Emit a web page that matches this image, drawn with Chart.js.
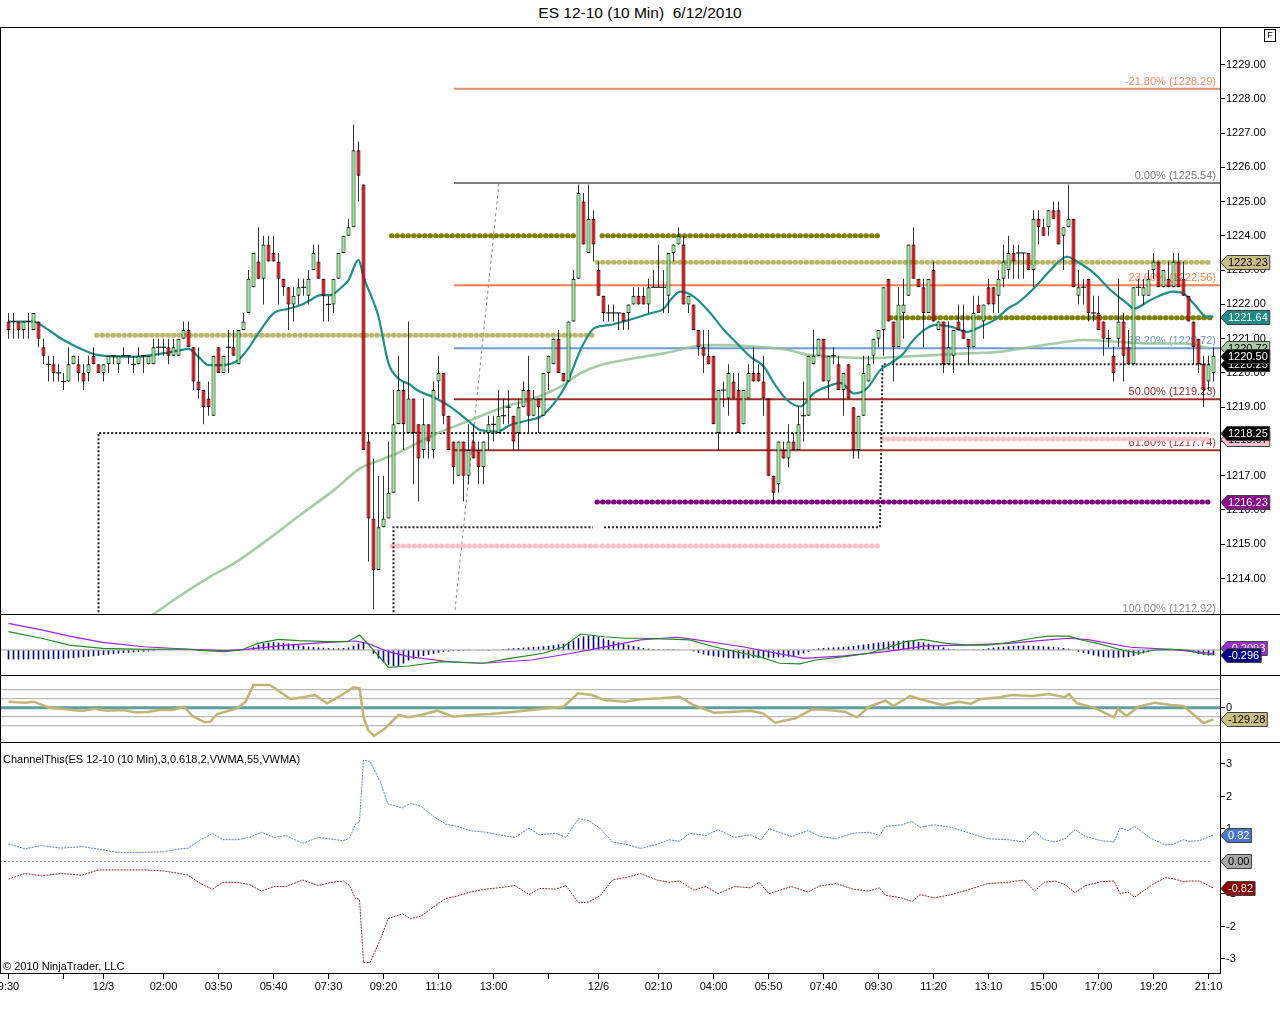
<!DOCTYPE html>
<html><head><meta charset="utf-8"><title>ES 12-10 (10 Min)</title>
<script src="https://cdn.jsdelivr.net/npm/chart.js@4.4.0/dist/chart.umd.min.js"></script>
<style>
 html,body{margin:0;padding:0;background:#fff;}
 body{position:relative;width:1280px;height:1020px;overflow:hidden;font-family:"Liberation Sans",Arial,sans-serif;color:#000;}
 canvas{position:absolute;left:0;}
 .ln{position:absolute;background:#000;z-index:5;}
 .txt{position:absolute;font-size:11px;white-space:pre;z-index:6;}
</style></head><body>
<div class="txt" style="left:0;width:1280px;top:4px;text-align:center;font-size:15.5px;">ES 12-10 (10 Min)  6/12/2010</div>
<canvas id="cMain" width="1280" height="586" style="top:28px"></canvas>
<canvas id="cMacd" width="1280" height="60" style="top:615px"></canvas>
<canvas id="cCci" width="1280" height="66" style="top:676px"></canvas>
<canvas id="cChan" width="1280" height="277" style="top:743px"></canvas>
<div class="ln" style="left:0;top:27px;width:1280px;height:1px"></div>
<div class="ln" style="left:0;top:614px;width:1280px;height:1px"></div>
<div class="ln" style="left:0;top:675px;width:1280px;height:1px"></div>
<div class="ln" style="left:0;top:742px;width:1280px;height:1px"></div>
<div class="ln" style="left:0;top:973px;width:1221px;height:1px"></div>
<div class="ln" style="left:0;top:27px;width:1px;height:947px"></div>
<div class="ln" style="left:1220px;top:27px;width:1px;height:947px"></div>
<div class="txt" style="left:1264px;top:29px;width:10px;height:11px;border:1px solid #000;font-size:9px;line-height:11px;text-align:center;">F</div>
<div class="txt" style="left:3px;top:753px;">ChannelThis(ES 12-10 (10 Min),3,0.618,2,VWMA,55,VWMA)</div>
<div class="txt" style="left:3px;top:960px;">© 2010 NinjaTrader, LLC</div>
<script>
// ---------------- DATA ----------------
const tickIdx  = [0, 11, 19, 31, 42, 53, 64, 75, 86, 97, 108, 118, 130, 141, 152, 163, 174, 185, 196, 207, 218, 229, 240];
const tickText = ['9:30', '', '12/3', '02:00', '03:50', '05:40', '07:30', '09:20', '11:10', '13:00', '', '12/6', '02:10', '04:00', '05:50', '07:40', '09:30', '11:20', '13:10', '15:00', '17:00', '19:20', '21:10'];
const priceTicks = [1214,1215,1216,1217,1218,1219,1220,1221,1222,1223,1224,1225,1226,1227,1228,1229];
const cciTicks = [0];
const chanTicks = [3,2,1,0,-1,-2,-3];

const open = [
1221.5,1221.5,1221.5,1221.25,1221.5,1221.25,1221.5,1220.75,1220.25,1220.25,
1220.0,1219.75,1219.75,1220.25,1220.25,1220.0,1220.0,1220.5,1220.25,1220.0,
1220.25,1220.5,1220.25,1220.5,1220.5,1220.25,1220.25,1220.5,1220.25,1220.25,
1220.75,1220.75,1220.75,1220.5,1220.5,1221.0,1221.25,1220.75,1219.75,1219.5,
1219.25,1218.75,1220.75,1220.0,1220.75,1220.75,1220.25,1221.25,1221.75,1222.5,
1223.25,1222.75,1223.75,1223.5,1223.25,1222.75,1222.5,1222.0,1222.25,1222.5,
1222.25,1223.0,1223.25,1222.75,1222.0,1222.0,1222.75,1223.5,1224.0,1224.25,
1226.5,1225.5,1218.0,1215.75,1214.25,1215.5,1215.75,1216.5,1218.5,1219.5,
1218.25,1219.25,1218.5,1217.75,1218.5,1217.75,1219.75,1220.0,1218.75,1218.0,
1217.0,1218.0,1217.0,1218.0,1217.75,1217.25,1218.25,1218.5,1218.25,1218.75,
1219.0,1218.75,1218.25,1219.0,1219.5,1218.75,1219.25,1218.75,1220.0,1220.25,
1221.0,1220.0,1219.75,1221.5,1222.75,1225.0,1223.5,1224.5,1223.0,1222.25,
1221.75,1221.75,1221.75,1221.75,1221.75,1222.0,1222.25,1222.25,1222.0,1222.5,
1222.5,1222.5,1222.25,1223.5,1223.75,1223.75,1222.0,1222.0,1221.25,1220.75,
1220.5,1220.5,1218.25,1219.5,1219.25,1219.75,1219.5,1218.5,1219.25,1220.0,
1220.0,1219.75,1219.25,1217.0,1216.75,1217.75,1217.5,1218.0,1217.75,1218.75,
1218.75,1220.25,1220.5,1221.0,1219.75,1220.5,1220.25,1219.5,1220.25,1219.0,
1217.75,1218.75,1219.75,1220.5,1221.0,1221.25,1222.75,1221.5,1220.75,1221.75,
1222.25,1223.75,1222.75,1222.5,1221.75,1223.0,1221.25,1221.5,1220.25,1220.5,
1221.5,1221.25,1221.0,1220.75,1222.0,1221.5,1222.5,1222.5,1222.25,1222.75,
1223.0,1223.5,1223.5,1223.5,1223.5,1223.0,1224.5,1224.25,1224.25,1224.75,
1224.75,1224.0,1224.25,1224.5,1222.25,1222.5,1222.75,1221.75,1221.75,1221.5,
1221.0,1220.5,1221.0,1221.5,1220.75,1220.25,1222.5,1222.25,1222.25,1223.0,
1223.25,1222.5,1222.75,1222.5,1223.25,1222.75,1222.25,1221.5,1221.0,1220.25,
1219.75,1220.0];
const high = [
1221.75,1221.75,1221.5,1221.5,1221.75,1221.75,1221.5,1221.0,1220.5,1220.5,
1220.25,1220.0,1220.75,1220.5,1220.5,1220.25,1220.5,1220.75,1220.25,1220.25,
1220.5,1220.5,1220.5,1220.75,1220.5,1220.5,1220.75,1220.5,1220.5,1221.0,
1221.0,1221.0,1221.0,1221.0,1221.0,1221.5,1221.5,1220.75,1220.75,1219.5,
1219.75,1220.5,1220.75,1220.5,1221.25,1221.25,1221.25,1221.75,1223.0,1223.5,
1224.25,1224.0,1224.0,1224.0,1223.5,1222.75,1222.5,1222.5,1222.75,1222.75,
1223.0,1223.75,1223.75,1222.75,1222.25,1222.75,1223.5,1224.0,1224.5,1227.25,
1226.75,1225.5,1218.25,1217.5,1217.0,1217.0,1218.0,1219.5,1220.5,1219.75,
1221.5,1219.25,1218.5,1219.25,1218.5,1219.75,1220.5,1220.0,1218.75,1218.0,
1218.0,1218.0,1218.5,1218.5,1218.0,1218.0,1218.75,1218.75,1219.5,1219.25,
1219.5,1218.75,1219.25,1219.75,1220.5,1219.5,1219.25,1220.0,1220.5,1221.0,
1221.25,1220.0,1221.5,1223.0,1225.5,1225.25,1225.5,1224.75,1223.25,1222.25,
1222.0,1222.0,1221.75,1221.75,1222.0,1222.5,1222.5,1222.5,1222.75,1223.0,
1223.75,1223.0,1223.5,1223.75,1224.25,1224.0,1222.25,1222.0,1221.25,1221.25,
1221.25,1220.5,1219.5,1219.75,1220.25,1220.0,1220.0,1219.5,1220.25,1220.75,
1220.25,1220.5,1219.25,1217.0,1218.0,1218.0,1218.5,1218.25,1219.0,1219.75,
1220.5,1221.25,1221.0,1221.0,1220.5,1220.75,1220.5,1220.0,1220.25,1219.0,
1218.75,1220.5,1220.5,1221.0,1221.25,1222.5,1222.75,1221.5,1222.5,1222.75,
1223.75,1224.25,1222.75,1222.75,1222.75,1223.25,1221.5,1221.5,1221.5,1221.25,
1222.0,1222.0,1221.0,1222.25,1222.25,1222.0,1222.75,1222.5,1223.0,1223.75,
1224.0,1223.75,1223.75,1223.5,1223.5,1224.75,1224.75,1224.5,1224.75,1225.0,
1225.0,1224.25,1225.5,1224.5,1223.0,1222.75,1222.75,1222.25,1222.25,1221.5,
1221.25,1220.75,1222.75,1221.75,1221.25,1222.5,1222.75,1222.75,1223.0,1223.5,
1223.25,1223.0,1223.25,1223.5,1223.5,1223.25,1222.25,1221.5,1221.0,1220.5,
1220.5,1220.75];
const low = [
1221.0,1221.0,1221.0,1221.0,1221.0,1221.25,1220.75,1220.25,1219.75,1219.75,
1219.75,1219.5,1219.75,1220.25,1219.75,1219.5,1219.75,1220.25,1220.0,1219.75,
1220.0,1220.25,1220.0,1220.5,1220.25,1220.0,1220.25,1220.0,1220.25,1220.25,
1220.5,1220.5,1220.25,1220.5,1220.5,1221.0,1220.75,1219.5,1219.25,1218.5,
1218.75,1218.75,1220.0,1220.0,1220.0,1220.5,1220.25,1221.25,1221.75,1222.5,
1222.75,1222.0,1223.25,1223.25,1222.0,1222.25,1221.25,1221.5,1222.0,1222.25,
1222.0,1223.0,1222.75,1221.5,1221.5,1221.75,1222.75,1223.5,1224.0,1224.25,
1225.0,1217.75,1214.5,1213.1,1214.25,1215.5,1215.75,1216.5,1218.5,1217.75,
1218.25,1216.75,1216.25,1217.5,1217.5,1217.5,1219.25,1218.5,1217.75,1216.75,
1217.0,1216.25,1216.75,1217.5,1216.75,1216.75,1217.75,1218.0,1218.25,1218.5,
1218.5,1217.75,1217.75,1219.0,1218.25,1218.75,1218.25,1218.75,1219.5,1220.25,
1220.0,1219.75,1219.75,1221.5,1222.75,1223.75,1223.5,1223.25,1222.25,1221.5,
1221.5,1221.5,1221.25,1221.25,1221.25,1222.0,1222.0,1222.0,1221.75,1222.5,
1222.5,1221.75,1221.75,1223.25,1223.75,1222.0,1221.75,1221.25,1220.5,1220.0,
1220.25,1218.5,1217.75,1219.0,1218.75,1219.25,1218.25,1218.5,1219.25,1219.75,
1219.75,1218.75,1217.0,1216.25,1216.5,1217.5,1217.25,1217.75,1217.75,1218.0,
1218.75,1220.25,1220.5,1219.75,1219.25,1220.25,1219.5,1218.75,1219.25,1217.5,
1217.5,1218.75,1219.75,1220.25,1220.75,1220.5,1221.5,1219.75,1220.75,1221.0,
1222.25,1222.75,1222.5,1220.75,1221.75,1221.5,1221.25,1220.0,1220.25,1220.0,
1221.25,1221.0,1220.25,1220.75,1221.75,1221.0,1222.0,1221.75,1221.75,1222.5,
1222.75,1222.75,1222.75,1222.75,1223.0,1222.5,1223.75,1224.0,1224.0,1224.5,
1223.75,1223.0,1224.25,1222.5,1222.0,1222.0,1221.5,1221.5,1221.25,1220.5,
1220.75,1219.75,1220.75,1219.75,1220.25,1220.25,1222.25,1222.0,1222.25,1222.75,
1222.5,1222.5,1222.5,1222.5,1222.5,1222.25,1221.5,1220.25,1220.0,1219.0,
1219.5,1219.75];
const close = [
1221.25,1221.5,1221.25,1221.5,1221.5,1221.75,1221.0,1220.5,1220.25,1220.0,
1220.0,1219.75,1220.25,1220.5,1220.0,1219.75,1220.25,1220.25,1220.0,1220.25,
1220.5,1220.5,1220.5,1220.5,1220.5,1220.25,1220.5,1220.5,1220.5,1220.75,
1220.75,1220.75,1220.5,1220.75,1221.0,1221.25,1220.75,1219.75,1219.5,1219.0,
1219.0,1220.5,1220.0,1220.5,1220.75,1220.5,1221.25,1221.5,1222.75,1223.5,
1222.75,1223.75,1223.25,1223.25,1222.75,1222.5,1222.0,1222.25,1222.5,1222.5,
1222.75,1223.5,1222.75,1222.25,1222.0,1222.75,1223.5,1224.0,1224.25,1226.5,
1225.75,1217.75,1215.75,1214.25,1215.5,1215.75,1216.5,1218.5,1219.5,1218.5,
1219.25,1218.25,1217.5,1218.5,1218.0,1219.5,1220.0,1218.75,1217.75,1217.25,
1218.0,1217.0,1217.75,1217.5,1217.25,1218.0,1218.5,1218.5,1218.75,1218.75,
1219.0,1218.0,1219.0,1219.5,1218.75,1219.25,1219.0,1220.0,1220.5,1221.0,
1220.0,1219.75,1221.5,1222.75,1225.25,1223.75,1224.5,1223.75,1222.25,1221.75,
1221.75,1221.75,1221.75,1221.5,1222.0,1222.25,1222.0,1222.0,1222.5,1222.5,
1222.5,1222.5,1223.5,1223.75,1224.0,1222.0,1222.25,1221.25,1220.75,1220.5,
1220.25,1218.5,1219.5,1219.5,1220.0,1219.25,1218.25,1219.5,1220.0,1219.75,
1219.75,1219.25,1217.0,1216.5,1218.0,1217.5,1218.0,1217.75,1218.5,1218.75,
1220.5,1220.5,1221.0,1219.75,1220.5,1220.5,1219.5,1220.0,1219.25,1217.75,
1218.75,1220.0,1220.25,1221.0,1221.25,1222.5,1221.5,1220.75,1222.0,1222.0,
1223.75,1222.75,1222.5,1221.75,1222.75,1221.5,1221.5,1220.25,1220.75,1221.25,
1221.25,1221.0,1220.75,1221.75,1221.75,1222.0,1222.0,1222.0,1222.75,1223.25,
1223.5,1223.25,1223.5,1223.5,1223.0,1224.5,1224.25,1224.0,1224.75,1224.5,
1223.75,1224.25,1224.5,1222.5,1222.5,1222.5,1221.75,1221.75,1221.25,1221.0,
1221.0,1220.0,1221.5,1220.5,1220.25,1222.5,1222.5,1222.5,1222.75,1223.25,
1222.5,1223.0,1222.5,1223.25,1222.5,1222.25,1221.5,1220.75,1220.25,1219.5,
1220.25,1220.5];

// moving averages (bar index, price)
const tealX = [0,5,7,11,15,18,25,30,34,36,38,40,42.7,46,48,50,53,56,58.4,60.4,62.4,64.4,66.4,68,70,71,74,76,78,80.4,81.7,85,88.4,91.7,94.4,97.7,100.4,103.7,106.4,109.1,111.7,114.4,117.1,120.4,121.7,125.1,128.4,131.1,132.4,134.4,137.1,140.4,143.1,145.7,148.4,151.1,153.1,155.7,158.4,161,163.7,166.4,169.1,171.7,174.4,176.4,179,180.4,183.1,185.7,188.4,191.7,194.4,197.1,200.4,201.7,205.1,208.4,211.7,213.7,217.1,220.4,223.7,225.1,228.4,233,235,237,239.7,241];
const tealY = [1221.5,1221.5,1221.35,1220.96,1220.67,1220.52,1220.47,1220.55,1220.65,1220.7,1220.47,1220.23,1220.23,1220.38,1220.72,1221.16,1221.74,1221.87,1221.98,1222.13,1222.27,1222.27,1222.47,1222.71,1223.3,1222.81,1221.64,1220.28,1219.84,1219.65,1219.5,1219.29,1219.01,1218.63,1218.33,1218.29,1218.48,1218.61,1218.72,1219.11,1219.7,1220.67,1221.3,1221.4,1221.45,1221.59,1221.74,1221.88,1222.13,1222.37,1222.22,1221.74,1221.25,1220.86,1220.47,1220.18,1219.7,1219.21,1219.02,1219.4,1219.6,1219.7,1219.4,1219.55,1220.09,1220.28,1220.57,1220.86,1221.25,1221.4,1221.35,1221.2,1221.35,1221.54,1221.93,1222.03,1222.47,1223.0,1223.39,1223.25,1222.91,1222.42,1222.03,1221.88,1222.13,1222.37,1222.32,1222.03,1221.64,1221.64];
const longX = [28.5,29.4,40.4,45.1,51.7,58.4,65.1,70.4,74.4,78.4,80.4,85,91.7,98.4,105.1,110.4,114.4,118.4,125.1,131.7,137.1,141.7,148.4,155.1,160.4,165.1,171.7,178.4,185.1,191.7,198.4,205.1,211.7,215,221.7,228.4,235,240];
const longY = [1212.9,1213.0,1214.06,1214.44,1215.12,1215.86,1216.58,1217.22,1217.46,1217.7,1217.85,1218.19,1218.58,1218.97,1219.26,1219.6,1219.99,1220.23,1220.43,1220.59,1220.77,1220.81,1220.78,1220.69,1220.52,1220.47,1220.43,1220.47,1220.52,1220.57,1220.62,1220.77,1220.91,1220.96,1220.91,1220.86,1220.86,1220.72];

// horizontal levels (dotted heavy lines)
const levelPrice = [1224.0, 1224.0, 1221.1, 1223.23, 1221.61, 1216.23, 1214.95, 1214.95, 1218.07];
const levelFrom  = [76.6, 118.7, 17.6, 117.7, 176.4, 117.7, 76.7, 118.7, 174.7];
const levelTo    = [113.7, 174.7, 117.7, 240.7, 240.7, 240.7, 117.7, 174.7, 240.4];
// step lines (thin dotted black)
const step1X = [18, 18, 240],           step1Y = [1212.9, 1218.25, 1218.25];
const step2X = [77, 77, 116.9],         step2Y = [1212.9, 1215.5, 1215.5];
const step3X = [119.1, 174.3, 174.8, 240.5], step3Y = [1215.5, 1215.5, 1220.25, 1220.25];
const trendX = [89.3, 98.1],            trendY = [1213.08, 1225.54];
// fibonacci
const fibPct = [-21.8, 0, 23.6, 38.2, 50, 61.8, 100];
const fibVal = [1228.29, 1225.54, 1222.56, 1220.72, 1219.23, 1217.74, 1212.92];
const fibFrom = 89.1, fibTo = 242.3;

// MACD
const macdX = [0,6.6,12.2,18.8,27,35.2,39.2,43.2,46.6,49.8,54,58,63.8,67.8,70.2,71.8,76,80,86.6,94.8,100.4,107,111,114.4,119.2,123.2,126.4,133.7,136.2,141.1,146.8,150.1,154.2,158.2,161.5,167.2,172.1,175.4,179.5,182.7,187.6,191.7,195.8,199.9,204.8,208,212.1,214.6,217.8,222.7,226,229.3,232.5,235.8,238.2,241];
const macdY = [1.08,0.69,0.29,0.10,0.04,0.06,-0.04,-0.10,0.0,0.39,0.63,0.55,0.49,0.49,0.88,0.39,-1.02,-0.94,-0.69,-0.78,-0.49,-0.19,0.19,0.94,0.78,0.69,0.69,0.63,0.59,0.19,-0.19,-0.39,-0.78,-0.82,-0.59,-0.39,-0.19,0.10,0.49,0.63,0.39,0.29,0.29,0.43,0.69,0.82,0.82,0.59,0.39,0.0,-0.19,0.0,0.04,0.0,-0.19,-0.296];
const sigX = [0,6.6,12.2,18.8,27,35.2,43.2,47.4,55.6,63.8,69.4,71.8,76,80,88.2,94.8,104.6,112.6,116.8,126.4,133.7,137,146.8,159.1,167.2,175.4,183.5,191.7,199.9,208,212.1,216.2,224.4,232.5,241];
const sigY = [1.57,1.18,0.82,0.45,0.19,0.06,-0.04,0.04,0.29,0.45,0.53,0.39,-0.10,-0.39,-0.69,-0.78,-0.59,-0.19,0.04,0.59,0.75,0.63,0.19,-0.49,-0.35,-0.10,0.24,0.29,0.39,0.59,0.69,0.59,0.16,0.04,-0.209];
const macdHist = [
-0.55,-0.55,-0.56,-0.56,-0.55,-0.55,-0.56,-0.55,-0.54,-0.54,
-0.53,-0.52,-0.5,-0.48,-0.45,-0.42,-0.4,-0.37,-0.34,-0.3,
-0.27,-0.24,-0.21,-0.18,-0.16,-0.14,-0.12,-0.1,-0.08,-0.06,
-0.03,0.0,0.02,0.03,0.04,0.03,0.02,0.0,-0.03,-0.05,
-0.06,-0.07,-0.07,-0.06,-0.05,-0.03,-0.01,0.0,0.05,0.18,
0.32,0.4,0.44,0.45,0.43,0.42,0.38,0.33,0.28,0.24,
0.2,0.17,0.15,0.13,0.11,0.1,0.1,0.12,0.15,0.25,
0.38,0.42,0.02,-0.22,-0.5,-0.7,-0.88,-0.94,-0.93,-0.8,
-0.62,-0.52,-0.42,-0.35,-0.28,-0.22,-0.16,-0.12,-0.09,-0.07,
-0.06,-0.05,-0.04,-0.03,-0.02,-0.02,-0.01,0.0,0.03,0.05,
0.08,0.1,0.12,0.14,0.16,0.18,0.2,0.22,0.25,0.28,
0.33,0.38,0.45,0.55,0.7,0.8,0.85,0.86,0.78,0.68,
0.6,0.52,0.45,0.38,0.3,0.24,0.18,0.12,0.08,0.06,
0.05,0.05,0.05,0.05,0.04,0.03,0.0,-0.08,-0.18,-0.26,
-0.33,-0.38,-0.42,-0.45,-0.48,-0.5,-0.5,-0.5,-0.49,-0.48,
-0.47,-0.46,-0.45,-0.45,-0.44,-0.43,-0.4,-0.35,-0.28,-0.2,
-0.12,0.06,0.1,0.12,0.14,0.15,0.16,0.17,0.2,0.24,
0.28,0.32,0.36,0.4,0.44,0.47,0.5,0.52,0.53,0.55,
0.55,0.52,0.48,0.44,0.38,0.3,0.22,0.15,0.08,0.05,
0.03,0.02,0.0,0.02,0.04,0.06,0.1,0.14,0.17,0.2,
0.22,0.24,0.25,0.26,0.26,0.25,0.24,0.22,0.2,0.18,
0.15,0.12,0.08,0.0,-0.1,-0.18,-0.25,-0.32,-0.38,-0.42,
-0.45,-0.46,-0.45,-0.44,-0.42,-0.36,-0.28,-0.2,-0.12,-0.06,
-0.03,-0.02,-0.02,-0.03,-0.04,-0.05,-0.08,-0.15,-0.24,-0.3,
-0.33,-0.3];

// CCI
const cciLevels = [200, 100, -100, -200];
const cciX = [0,3.3,5,8.2,11.4,14.7,17.2,19.6,22.9,25.3,27.8,30.2,32.7,35.1,36.8,39.2,40.4,41.7,45.7,47.4,49,52.3,54.7,56.4,58.8,61.3,63.7,66.1,69,70.2,71,71.9,73.1,75.1,78,80,82.5,85.7,89,92.3,96.4,101.3,104.5,107.8,111,113.9,116.7,119.2,123.2,126.4,130.5,134.2,137,141.1,145.2,148.4,150.9,153.3,157.4,160.7,163.9,167.2,169.7,172.1,175.4,177,180.3,183.5,186.8,190.1,192.5,194.2,198.3,200.7,204.8,208,211.3,212.1,213.7,217,221.1,221.9,223.6,226,229.3,232.5,235,239,241];
const cciY = [67,56,67,0,-18,-37,-11,-33,-26,-51,-48,-26,-26,11,-92,-162,-155,-70,-7,67,252,252,160,97,116,141,49,122,227,216,-100,-248,-314,-240,-81,-107,-81,-33,-100,-81,-70,-44,-26,-7,11,160,141,85,67,93,104,122,30,-55,-44,-33,-63,-166,-118,-18,-26,-44,-107,11,78,19,130,78,30,67,44,93,116,141,130,152,116,152,49,4,-107,-14,-92,11,56,30,19,-170,-129.28];

// ChannelThis
const upX = [0,3.3,6.6,10.6,14.7,18.8,22.1,27,31,34.3,35.9,38.4,40.8,42.9,45.7,48.2,50.6,53.1,55.5,58.8,62,64.5,67,68.2,69.4,70.2,71,72.3,74.3,75.9,78.8,80.4,82.5,85,87.4,89.8,92.3,95.5,98,101.3,104.1,106.2,109.4,111.5,114,116,118.4,120.8,124.1,126.4,129.7,132.1,134.2,136.2,139.5,141.9,145.2,148.4,150.5,152.1,156.6,159.9,162.3,165.6,168.9,172.1,174.2,175.4,178.6,180.7,182.3,185.2,188.5,191.7,195.8,199.9,203.1,205.2,207.2,209.3,211.3,213.3,215.4,218.6,221.1,222.3,223.9,225.2,228.4,231.3,232.9,235,236.2,238.2,241];
const upY = [0.54,0.39,0.49,0.41,0.46,0.36,0.27,0.28,0.30,0.39,0.41,0.67,0.86,0.67,0.67,0.74,0.90,0.74,0.80,0.56,0.74,0.69,0.64,0.72,1.15,1.21,3.12,3.08,2.47,1.77,1.65,1.79,1.70,1.39,1.15,1.08,0.95,0.90,0.82,0.74,1.03,0.82,0.87,0.74,1.32,1.26,1.01,0.60,0.51,0.40,0.53,0.67,0.62,0.87,0.80,0.98,0.74,0.82,0.67,1.01,0.77,0.95,0.77,0.70,0.87,0.90,0.80,1.08,1.13,1.23,1.05,1.13,1.05,0.90,0.70,0.67,0.60,0.93,0.67,0.60,0.70,0.98,0.77,0.64,0.60,1.03,0.95,1.08,0.72,0.51,0.53,0.67,0.62,0.64,0.82];
const loX = [0,3.3,6.6,10.6,14.7,18,21.3,27,31,34.3,35.9,38.4,40.8,42.9,45.7,48.2,50.6,53.1,55.5,58.8,62,64.5,67,68.2,69.4,70.2,71,72.3,74.7,75.9,78.8,80.4,82.5,85,87.4,89.8,92.3,95.5,98,101.3,104.1,106.2,109.4,111.5,114,116,118.4,120.8,124.1,126.4,129.7,132.1,134.2,137,139.5,141.9,145.2,148.4,150.1,152.1,156.6,159.9,162.3,165.6,168.9,172.1,174.2,175.4,178.6,180.7,182.3,185.2,188.5,191.7,195.8,199.9,203.1,205.2,207.2,209.3,211.3,213.3,215.4,218.6,221.1,222.3,223.9,225.2,228.4,231.3,232.9,235,236.2,238.2,241];
const loY = [-0.54,-0.37,-0.44,-0.37,-0.42,-0.26,-0.26,-0.26,-0.29,-0.37,-0.42,-0.68,-0.85,-0.64,-0.64,-0.71,-0.91,-0.77,-0.77,-0.57,-0.74,-0.64,-0.60,-0.74,-1.14,-1.16,-3.11,-3.11,-2.28,-1.76,-1.61,-1.76,-1.68,-1.40,-1.14,-1.06,-0.94,-0.85,-0.81,-0.74,-1.02,-0.83,-0.85,-0.74,-1.27,-1.25,-1.04,-0.57,-0.47,-0.37,-0.57,-0.64,-0.60,-0.88,-0.77,-0.99,-0.77,-0.81,-0.64,-0.99,-0.77,-0.94,-0.75,-0.68,-0.85,-0.91,-0.81,-1.04,-1.12,-1.23,-1.02,-1.12,-1.02,-0.88,-0.68,-0.64,-0.57,-0.91,-0.64,-0.60,-0.71,-0.96,-0.74,-0.62,-0.60,-0.99,-0.94,-1.10,-0.75,-0.50,-0.53,-0.62,-0.60,-0.60,-0.82];

// right-axis price markers
const priceFlagVals = [1223.23, 1221.64, 1220.72, 1220.25, 1220.50, 1218.07, 1218.25, 1216.23];
const macdFlagVals  = [-0.2093, -0.296];
const cciFlagVals   = [-129.28];
const chanFlagVals  = [0.82, 0.00, -0.82];

// ---------------- STYLE ----------------
const FONT = '"Liberation Sans", Arial, sans-serif';
const X_MIN = -1.7, X_MAX = 242.3;
const UP = '#90ee90', DOWN = '#e8000b';
const levelColor = ['#808000','#808000','#bdb76b','#bdb76b','#808000','#800080','#ffc0cb','#ffc0cb','#ffc0cb'];
const fibColor = ['#ee8a66','#808080','#ff7f50','#6f98dc','#a52a2a','#9b3535','#8a8a8a'];
const priceFlagBg = ['#c9be84','#1f8a86','#a9c9a4','#000000','#000000','#ffc0cb','#000000','#8b0a8b'];
const priceFlagFg = ['#000','#fff','#000','#fff','#fff','#000','#fff','#fff'];
const macdFlagBg = ['#9932cc','#000080'], macdFlagFg = ['#fff','#fff'], macdFlagDy = [-6, 0];
const cciFlagBg = ['#c9be84'], cciFlagFg = ['#000'];
const chanFlagBg = ['#4a78d0','#a8a8a8','#8b0000'], chanFlagFg = ['#fff','#000','#fff'];

Chart.defaults.font.family = FONT;
Chart.defaults.font.size = 11;
Chart.defaults.color = '#000';

const pts = (xs, ys) => xs.map((x, k) => ({ x, y: ys[k] }));
function lineDS(data, color, width, order, extra) {
  return Object.assign({ type: 'line', data, borderColor: color, borderWidth: width, pointRadius: 0,
    fill: false, tension: 0, order }, extra || {});
}
function xScale(show) {
  return {
    type: 'linear', min: X_MIN, max: X_MAX, offset: false, display: show,
    grid: { drawOnChartArea: false, drawTicks: true, tickLength: 6, color: '#000', offset: false },
    border: { display: false },
    ticks: { autoSkip: false, maxRotation: 0, minRotation: 0, padding: 1, color: '#000',
      font: { size: 11 }, callback: (v, i) => tickText[i] },
    afterBuildTicks: s => { if (show) s.ticks = tickIdx.map(v => ({ value: v })); },
    afterFit: s => { s.height = show ? 47 : 0; s.paddingLeft = 0; s.paddingRight = 0; }
  };
}
function yScale(min, max, ticks, fmt) {
  return {
    type: 'linear', position: 'right', min, max, beginAtZero: false,
    grid: { drawOnChartArea: false, drawTicks: !!ticks, tickLength: 5, color: '#000' },
    border: { display: false },
    ticks: { display: !!ticks, padding: 1, color: '#000', autoSkip: false, font: { size: 11 },
      callback: v => fmt ? fmt(v) : v },
    afterBuildTicks: s => { if (ticks) s.ticks = ticks.map(v => ({ value: v })); },
    afterFit: s => { s.width = 60; s.paddingTop = 0; s.paddingBottom = 0; }
  };
}
function flagPlugin(vals, texts, bg, fg, dy) {
  return { id: 'flags', afterDraw(chart) {
    const ctx = chart.ctx, ys = chart.scales.y, x0 = chart.chartArea.right;
    ctx.save();
    ctx.font = '11px ' + FONT; ctx.textBaseline = 'middle'; ctx.textAlign = 'left';
    vals.forEach((v, k) => {
      const y = Math.round(ys.getPixelForValue(v) + (dy ? dy[k] : 0)) + 0.5;
      const tw = ctx.measureText(texts[k]).width;
      const r = x0 + 10 + tw;
      ctx.beginPath();
      ctx.moveTo(x0 + 1, y); ctx.lineTo(x0 + 7, y - 7); ctx.lineTo(r, y - 7);
      ctx.lineTo(r, y + 7); ctx.lineTo(x0 + 7, y + 7); ctx.closePath();
      ctx.fillStyle = bg[k]; ctx.fill();
      ctx.strokeStyle = '#404040'; ctx.lineWidth = 1; ctx.stroke();
      ctx.fillStyle = fg[k]; ctx.fillText(texts[k], x0 + 8, y + 0.5);
    });
    ctx.restore();
  }};
}
const common = {
  responsive: false, maintainAspectRatio: false, animation: false, events: [],
  layout: { padding: 0, autoPadding: false },
  plugins: { legend: { display: false }, tooltip: { enabled: false } }
};

// ---------------- MAIN PRICE PANEL ----------------
const idx = open.map((_, i) => i);
const mainDS = [];
mainDS.push({ type: 'line', data: idx.filter(i => open[i] === close[i]).map(i => ({ x: i, y: close[i] })),
  showLine: false, pointStyle: 'line', pointRadius: 2.6, pointBorderColor: '#000', pointBorderWidth: 1, order: 0 });
mainDS.push({ type: 'bar', data: idx.map(i => ({ x: i, y: [open[i], close[i]] })),
  backgroundColor: idx.map(i => close[i] >= open[i] ? UP : DOWN), borderColor: '#000', borderWidth: 1,
  borderSkipped: false, grouped: false, barPercentage: 1.0, inflateAmount: 0, order: 1 });
mainDS.push({ type: 'bar', data: idx.map(i => ({ x: i, y: [low[i], high[i]] })),
  backgroundColor: '#000', borderWidth: 0, grouped: false, barPercentage: 0.2, inflateAmount: 0, order: 2 });
mainDS.push(lineDS(pts(tealX, tealY), '#1f8f8a', 2.2, 3, { cubicInterpolationMode: 'monotone' }));
mainDS.push(lineDS(pts(longX, longY), 'rgba(150,195,150,0.85)', 2.6, 4, { cubicInterpolationMode: 'monotone' }));
fibVal.forEach((v, k) => mainDS.push(lineDS([{ x: fibFrom, y: v }, { x: fibTo, y: v }], fibColor[k], 2, 5)));
[[step1X, step1Y], [step2X, step2Y], [step3X, step3Y]].forEach(s =>
  mainDS.push(lineDS(pts(s[0], s[1]), '#222', 2, 6, { borderDash: [2, 2] })));
levelPrice.forEach((p, k) => mainDS.push(lineDS([{ x: levelFrom[k], y: p }, { x: levelTo[k], y: p }],
  levelColor[k], 5, 7, { borderDash: [0.5, 5], borderCapStyle: 'round' })));
mainDS.push(lineDS(pts(trendX, trendY), '#888', 1, 8, { borderDash: [3, 3] }));

const fibLabels = { id: 'fibLabels', beforeDatasetsDraw(chart) {
  const { ctx, chartArea: a } = chart, ys = chart.scales.y;
  ctx.save();
  ctx.beginPath(); ctx.rect(a.left, a.top, a.right - a.left, a.bottom - a.top); ctx.clip();
  ctx.font = '11px ' + FONT; ctx.textAlign = 'right'; ctx.textBaseline = 'middle';
  fibPct.forEach((p, k) => {
    ctx.fillStyle = fibColor[k];
    ctx.fillText(p.toFixed(2) + '% (' + fibVal[k].toFixed(2) + ')', a.right - 4, ys.getPixelForValue(fibVal[k]) - 7);
  });
  ctx.restore();
}};

new Chart(document.getElementById('cMain'), {
  type: 'bar', data: { datasets: mainDS },
  options: Object.assign({}, common, { scales: {
    x: xScale(false), y: yScale(1212.965, 1230.065, priceTicks, v => v.toFixed(2)) } }),
  plugins: [fibLabels, flagPlugin(priceFlagVals, priceFlagVals.map(v => v.toFixed(2)), priceFlagBg, priceFlagFg)]
});

// ---------------- MACD ----------------
new Chart(document.getElementById('cMacd'), {
  type: 'bar', data: { datasets: [
    lineDS(pts(macdX, macdY), '#228b22', 1.2, 0),
    lineDS(pts(sigX, sigY), '#a020f0', 1.2, 1),
    { type: 'bar', data: macdHist.map((v, i) => ({ x: i, y: v })), backgroundColor: '#000080',
      borderWidth: 0, grouped: false, barPercentage: 0.4, inflateAmount: 0, order: 2 },
    lineDS([{ x: X_MIN, y: 0 }, { x: X_MAX, y: 0 }], '#a0a0a0', 1, 3)
  ]},
  options: Object.assign({}, common, { scales: { x: xScale(false), y: yScale(-1.471, 2.059, null) } }),
  plugins: [flagPlugin(macdFlagVals, ['-0.2093', '-0.296'], macdFlagBg, macdFlagFg, macdFlagDy)]
});

// ---------------- CCI ----------------
const cciDS = [lineDS(pts(cciX, cciY), '#c2b574', 2.5, 0)];
cciDS.push(lineDS([{ x: X_MIN, y: 0 }, { x: X_MAX, y: 0 }], '#5f9ea0', 3, 1));
cciLevels.forEach(l => cciDS.push(lineDS([{ x: X_MIN, y: l }, { x: X_MAX, y: l }], '#a8a8a8', 1, 2)));
new Chart(document.getElementById('cCci'), {
  type: 'line', data: { datasets: cciDS },
  options: Object.assign({}, common, { scales: { x: xScale(false), y: yScale(-381.1, 352.2, cciTicks, v => String(v)) } }),
  plugins: [flagPlugin(cciFlagVals, cciFlagVals.map(v => v.toFixed(2)), cciFlagBg, cciFlagFg)]
});

// ---------------- CHANNEL ----------------
new Chart(document.getElementById('cChan'), {
  type: 'line', data: { datasets: [
    lineDS(pts(upX, upY), '#5a80d8', 1, 0, { borderDash: [2, 1] }),
    lineDS(pts(loX, loY), '#9a2a2a', 1, 1, { borderDash: [2, 1] }),
    lineDS([{ x: X_MIN, y: 0 }, { x: 240.5, y: 0 }], '#999', 1, 2, { borderDash: [2, 2] })
  ]},
  options: Object.assign({}, common, { scales: { x: xScale(true), y: yScale(-3.431, 3.646, chanTicks, v => String(v)) } }),
  plugins: [flagPlugin(chanFlagVals, chanFlagVals.map(v => v.toFixed(2)), chanFlagBg, chanFlagFg)]
});
</script>
</body></html>
